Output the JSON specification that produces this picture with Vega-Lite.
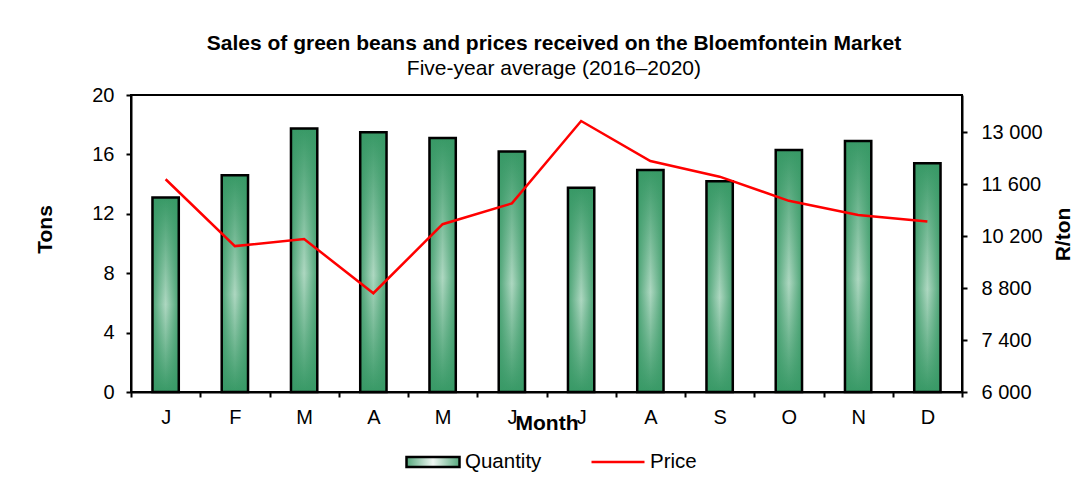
{
  "$schema": "https://vega.github.io/schema/vega-lite/v6.json",
  "width": 831,
  "height": 297,
  "autosize": "none",
  "padding": {"left": 131, "top": 95, "right": 124, "bottom": 94},
  "background": "white",
  "config": {
    "font": "Liberation Sans",
    "view": {"stroke": "#000", "strokeWidth": 2},
    "axis": {
      "domainColor": "#000", "domainWidth": 2,
      "tickColor": "#000", "tickWidth": 2, "tickSize": 5,
      "labelColor": "#000", "labelFontSize": 20, "labelFont": "Liberation Sans",
      "titleColor": "#000", "titleFontSize": 21, "titleFontWeight": "bold", "titleFont": "Liberation Sans",
      "grid": false
    },
    "legend": {
      "labelFontSize": 20.5, "labelOffset": 4, "labelColor": "#000", "labelFont": "Liberation Sans",
      "symbolSize": 2809, "symbolStrokeWidth": 2.5, "symbolOpacity": 1
    }
  },
  "title": {
    "text": "Sales of green beans and prices received on the Bloemfontein Market",
    "subtitle": "Five-year average (2016–2020)",
    "fontSize": 21, "fontWeight": "bold", "color": "#000", "font": "Liberation Sans",
    "subtitleFontSize": 21, "subtitleColor": "#000", "subtitleFont": "Liberation Sans",
    "anchor": "middle", "frame": "bounds", "offset": 6, "subtitlePadding": 4
  },
  "data": {
    "values": [
      {"Month": "Jan", "Quantity": 13.1, "Price": 11730},
      {"Month": "Feb", "Quantity": 14.6, "Price": 9930},
      {"Month": "Mar", "Quantity": 17.75, "Price": 10120},
      {"Month": "Apr", "Quantity": 17.5, "Price": 8660},
      {"Month": "May", "Quantity": 17.1, "Price": 10520},
      {"Month": "Jun", "Quantity": 16.2, "Price": 11080},
      {"Month": "Jul", "Quantity": 13.75, "Price": 13300},
      {"Month": "Aug", "Quantity": 14.95, "Price": 12220},
      {"Month": "Sep", "Quantity": 14.2, "Price": 11800},
      {"Month": "Oct", "Quantity": 16.3, "Price": 11150},
      {"Month": "Nov", "Quantity": 16.9, "Price": 10770},
      {"Month": "Dec", "Quantity": 15.4, "Price": 10590}
    ]
  },
  "encoding": {
    "x": {
      "field": "Month", "type": "nominal", "sort": null,
      "scale": {"paddingInner": 0, "paddingOuter": 0},
      "axis": {
        "title": "Month", "labelExpr": "isString(datum.value) ? substring(datum.value, 0, 1) : ''", "labelAngle": 0,
        "tickBand": "extent", "labelPadding": 10, "titleY": 20, "titleBaseline": "top"
      }
    }
  },
  "layer": [
    {
      "encoding": {
        "y": {
          "field": "Quantity", "type": "quantitative",
          "scale": {"domain": [0, 20], "nice": false},
          "axis": {"values": [0, 4, 8, 12, 16, 20], "title": "Tons", "labelPadding": 12, "titlePadding": 36, "titleY": 134}
        }
      },
      "layer": [
        {
          "mark": {
            "type": "bar", "width": {"band": 0.38},
            "fill": {"gradient": "linear", "x1": 0, "y1": 0, "x2": 0, "y2": 1,
              "stops": [{"offset": 0, "color": "#389966"}, {"offset": 0.55, "color": "#b8ddc9"}, {"offset": 1, "color": "#389966"}]}
          }
        },
        {
          "mark": {
            "type": "bar", "width": {"band": 0.38}, "strokeWidth": 2.5,
            "fill": {"gradient": "linear", "x1": 0, "y1": 0, "x2": 1, "y2": 0,
              "stops": [
                {"offset": 0, "color": "rgba(56,153,102,0.85)"},
                {"offset": 0.5, "color": "rgba(56,153,102,0.08)"},
                {"offset": 1, "color": "rgba(56,153,102,0.85)"}
              ]}
          },
          "encoding": {
            "stroke": {
              "datum": "Quantity", "type": "nominal",
              "scale": {"domain": ["Quantity"], "range": ["#000000"]},
              "legend": {
                "orient": "none", "legendX": 274, "legendY": 339, "title": null,
                "symbolType": "M-1,-0.19H1V0.19H-1Z"
              }
            }
          }
        }
      ]
    },
    {
      "mark": {"type": "line", "strokeWidth": 2.5},
      "encoding": {
        "y": {
          "field": "Price", "type": "quantitative",
          "scale": {"domain": [6000, 14000], "nice": false},
          "axis": {
            "orient": "right", "values": [6000, 7400, 8800, 10200, 11600, 13000],
            "labelExpr": "replace(format(datum.value, ','), ',', ' ')",
            "title": "R/ton", "titleAngle": 270, "titleBaseline": "top", "labelPadding": 14, "titlePadding": 10, "titleY": 139
          }
        },
        "color": {
          "datum": "Price", "type": "nominal",
          "scale": {"domain": ["Price"], "range": ["#ff0000"]},
          "legend": {
            "orient": "none", "legendX": 459, "legendY": 339, "title": null,
            "symbolType": "stroke"
          }
        }
      }
    }
  ],
  "resolve": {"scale": {"y": "independent"}}
}
